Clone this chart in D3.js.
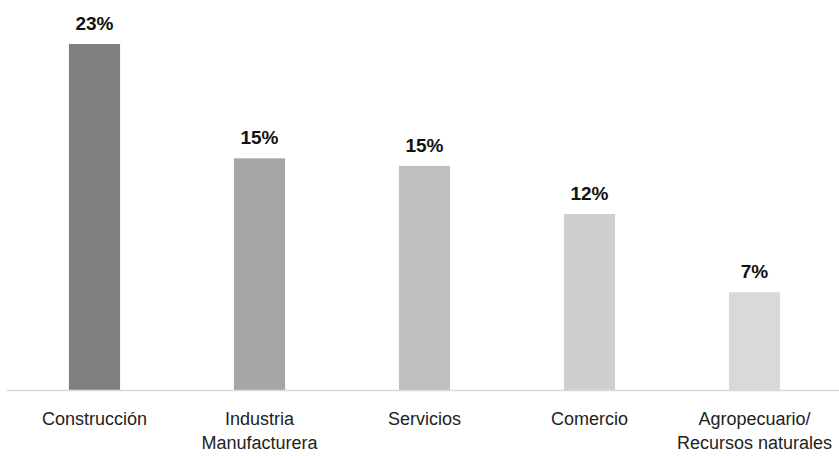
<!DOCTYPE html>
<html>
<head>
<meta charset="utf-8">
<script src="https://cdn.jsdelivr.net/npm/d3@7"></script>
<style>
  html, body { margin: 0; padding: 0; background: #fff; }
  svg { display: block; font-family: "Liberation Sans", Arial, sans-serif; }
</style>
</head>
<body>
<svg id="chart" width="839" height="456"></svg>
<script>
const categories = [
  ["Construcción"],
  ["Industria", "Manufacturera"],
  ["Servicios"],
  ["Comercio"],
  ["Agropecuario/", "Recursos naturales"]
];
const values = [23, 15.4, 14.9, 11.7, 6.5];
const valueLabels = ["23%", "15%", "15%", "12%", "7%"];
const colors = ["#7f7f7f", "#a6a6a6", "#bfbfbf", "#d0cfd0", "#d9d9d9"];

const svg = d3.select("#chart");
const baseline = 390;

const x = d3.scaleBand()
  .domain(d3.range(categories.length))
  .range([12, 837])
  .paddingInner(0.69)
  .paddingOuter(0.345);

const y = d3.scaleLinear().domain([0, 23]).range([baseline, 44]);

svg.selectAll("rect.bar")
  .data(values)
  .join("rect")
  .attr("class", "bar")
  .attr("x", (d, i) => x(i))
  .attr("width", x.bandwidth())
  .attr("y", d => y(d))
  .attr("height", d => baseline - y(d))
  .attr("fill", (d, i) => colors[i]);

svg.selectAll("text.val")
  .data(values)
  .join("text")
  .attr("class", "val")
  .attr("x", (d, i) => x(i) + x.bandwidth() / 2)
  .attr("y", d => y(d) - 14)
  .attr("text-anchor", "middle")
  .attr("font-size", 19)
  .attr("font-weight", "bold")
  .attr("fill", "#111")
  .text((d, i) => valueLabels[i]);

// x axis
const xAxis = d3.axisBottom(x).tickSize(0).tickFormat("");
const axisG = svg.append("g")
  .attr("transform", `translate(0,${baseline + 0.5})`)
  .call(xAxis);
axisG.select(".domain").remove();
axisG.append("line")
  .attr("x1", 7).attr("x2", 839)
  .attr("stroke", "#d9d9d9").attr("stroke-width", 1.5);

const labels = svg.append("g").selectAll("text.cat")
  .data(categories)
  .join("text")
  .attr("class", "cat")
  .attr("text-anchor", "middle")
  .attr("font-size", 18)
  .attr("fill", "#222")
  .attr("transform", (d, i) => `translate(${x(i) + x.bandwidth() / 2},425)`);

labels.selectAll("tspan")
  .data(d => d)
  .join("tspan")
  .attr("x", 0)
  .attr("dy", (d, j) => j === 0 ? 0 : 24)
  .text(d => d);
</script>
</body>
</html>
